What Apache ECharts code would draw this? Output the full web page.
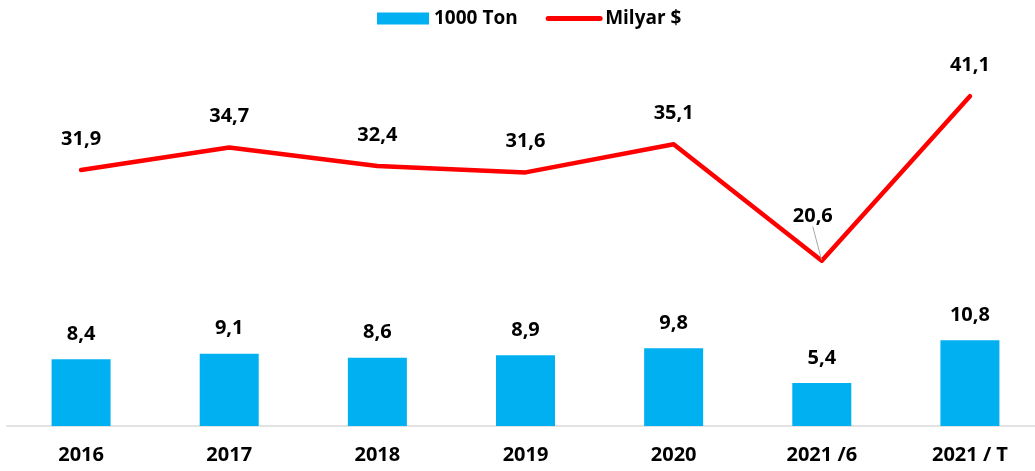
<!DOCTYPE html>
<html>
<head>
<meta charset="utf-8">
<script src="https://cdn.jsdelivr.net/npm/echarts@6/dist/echarts.min.js"></script>
<style>
  html, body { margin: 0; padding: 0; background: #fff; overflow: hidden; }
  #chart { width: 1045px; height: 471px; }
</style>
</head>
<body>
<div id="chart"></div>
<script>
// chart data
const categories = ['2016', '2017', '2018', '2019', '2020', '2021 /6', '2021 / T']
const tonValues = [8.4, 9.1, 8.6, 8.9, 9.8, 5.4, 10.8]
const usdValues = [31.9, 34.7, 32.4, 31.6, 35.1, 20.6, 41.1]

const FONT = '"Open Sans", "Liberation Sans", sans-serif'
const fmt = v => String(v).replace('.', ',')

const chart = echarts.init(document.getElementById('chart'))

chart.setOption({
  animation: false,
  textStyle: { fontFamily: FONT },
  legend: {
    left: 372,
    top: 4,
    itemWidth: 52,
    itemHeight: 12,
    itemGap: 28,
    textStyle: { fontFamily: FONT, fontSize: 19, fontWeight: 'bold', color: '#000' },
    data: [
      { name: '1000 Ton', icon: 'rect' },
      {
        name: 'Milyar $',
        itemStyle: { color: 'rgba(0,0,0,0)', borderWidth: 0 },
        lineStyle: { color: '#ff0000', width: 5, cap: 'round' }
      }
    ]
  },
  // the canvas is a little wider than the window so the last category lines up
  grid: { left: 7, right: 1, top: 40, bottom: 45 },
  xAxis: {
    type: 'category',
    data: categories,
    axisTick: { show: false },
    axisLine: { lineStyle: { color: '#d9d9d9', width: 1.5 } },
    axisLabel: {
      margin: 19,
      fontFamily: FONT,
      fontSize: 20,
      fontWeight: 'bold',
      color: '#000'
    }
  },
  yAxis: [
    { type: 'value', min: 0, max: 48.6, show: false, splitLine: { show: false } },
    { type: 'value', min: 0, max: 48.1, show: false, splitLine: { show: false } }
  ],
  series: [
    {
      name: '1000 Ton',
      type: 'bar',
      yAxisIndex: 0,
      barWidth: 59,
      itemStyle: { color: '#00b0f0' },
      label: {
        show: true,
        position: 'top',
        distance: 15,
        fontFamily: FONT,
        fontSize: 20,
        fontWeight: 'bold',
        color: '#000',
        formatter: p => fmt(p.value)
      },
      data: tonValues
    },
    {
      name: 'Milyar $',
      type: 'line',
      yAxisIndex: 1,
      symbol: 'circle',
      symbolSize: 2,
      showSymbol: true,
      lineStyle: { color: '#ff0000', width: 4.5, cap: 'round', join: 'round' },
      itemStyle: { color: 'rgba(0,0,0,0)', borderWidth: 0 },
      label: {
        show: true,
        position: 'top',
        distance: 20,
        fontFamily: FONT,
        fontSize: 20,
        fontWeight: 'bold',
        color: '#000',
        formatter: p => fmt(p.value)
      },
      labelLine: { show: false },
      labelLayout: p => p.dataIndex === 5 ? { dx: -9, dy: -13 } : {},
      data: usdValues.map((v, i) => i === 5
        ? { value: v, labelLine: { show: true, lineStyle: { color: '#a6a6a6', width: 1 } } }
        : v)
    }
  ]
})
</script>
</body>
</html>
